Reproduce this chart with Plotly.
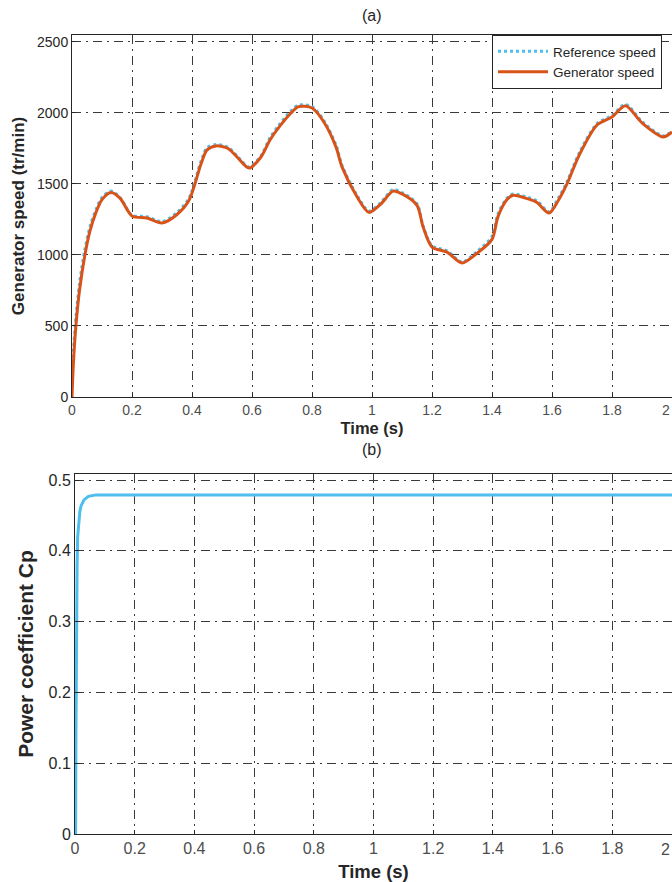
import plotly.graph_objects as go

# ---- data (a) ----
t_speed = [0, 0.005, 0.013, 0.025, 0.043, 0.06, 0.08, 0.1, 0.13, 0.16, 0.2, 0.25, 0.3, 0.35,
           0.39, 0.43, 0.45, 0.48, 0.52, 0.55, 0.59, 0.63, 0.66, 0.69, 0.73, 0.755, 0.8, 0.84,
           0.88, 0.9, 0.95, 0.99, 1.03, 1.07, 1.1, 1.15, 1.17, 1.2, 1.25, 1.3, 1.35, 1.4, 1.42,
           1.45, 1.47, 1.52, 1.55, 1.59, 1.62, 1.65, 1.69, 1.75, 1.8, 1.845, 1.9, 1.97, 2.0]
gen_speed = [0, 250, 500, 750, 1000, 1170, 1300, 1390, 1440, 1400, 1275, 1260, 1225, 1285,
             1385, 1640, 1740, 1768, 1750, 1690, 1612, 1690, 1810, 1900, 2000, 2045, 2035, 1935,
             1760, 1620, 1410, 1300, 1360, 1450, 1430, 1350, 1200, 1056, 1020, 944, 1012, 1110, 1270,
             1390, 1420, 1395, 1370, 1295, 1380, 1500, 1700, 1915, 1972, 2050, 1930, 1831, 1866]
ref_speed = [150, 330, 560, 800, 1040, 1200, 1320, 1405, 1450, 1405, 1280, 1270, 1235, 1300,
             1400, 1660, 1755, 1778, 1758, 1698, 1620, 1700, 1825, 1915, 2015, 2055, 2045, 1945,
             1775, 1630, 1420, 1310, 1370, 1460, 1440, 1360, 1205, 1065, 1030, 950, 1025, 1130, 1290,
             1400, 1430, 1405, 1380, 1305, 1395, 1515, 1715, 1925, 1982, 2060, 1940, 1840, 1870]

# ---- data (b) ----
t_cp = [0, 0.002, 0.003, 0.005, 0.007, 0.009, 0.012, 0.016, 0.02, 0.03, 0.045, 0.07, 0.1, 2.0]
cp = [0, 0.0, 0.13, 0.30, 0.38, 0.42, 0.44, 0.455, 0.463, 0.472, 0.477, 0.479, 0.479, 0.479]

x_ticks = [0, 0.2, 0.4, 0.6, 0.8, 1, 1.2, 1.4, 1.6, 1.8, 2]
x_ticklabels = ["0", "0.2", "0.4", "0.6", "0.8", "1", "1.2", "1.4", "1.6", "1.8", "2"]
y1_ticks = [0, 500, 1000, 1500, 2000, 2500]
y2_ticks = [0, 0.1, 0.2, 0.3, 0.4, 0.5]
y2_ticklabels = ["0", "0.1", "0.2", "0.3", "0.4", "0.5"]

FONT = '"Liberation Sans", Arial, sans-serif'
GRID = "#3a3a3a"
DASH = "9px,5px,2px,5px"

fig = go.Figure()
fig.add_trace(go.Scatter(x=t_speed, y=ref_speed, mode="lines", name="Reference speed",
                         line=dict(color="#4DBEEE", width=3, dash="dot", shape="spline", smoothing=0.8),
                         xaxis="x", yaxis="y"))
fig.add_trace(go.Scatter(x=t_speed, y=gen_speed, mode="lines", name="Generator speed",
                         line=dict(color="#D95319", width=3, shape="spline", smoothing=0.8),
                         xaxis="x", yaxis="y"))
fig.add_trace(go.Scatter(x=t_cp, y=cp, mode="lines", name="Cp", showlegend=False,
                         line=dict(color="#4DBEEE", width=3), xaxis="x2", yaxis="y2"))

H = 882
mt, mb = 35, 48
ph = H - mt - mb
top_lo = (834 - 397) / ph
bot_hi = (834 - 474) / ph

# the last x label ("2") is drawn separately, right-aligned so it stays inside the window
shown_x_labels = x_ticklabels[:-1] + [""]

common_x = dict(tickmode="array", tickvals=x_ticks, ticktext=shown_x_labels, range=[0, 2],
                showgrid=True, gridcolor=GRID, griddash=DASH, gridwidth=1,
                showline=True, linecolor="#262626", linewidth=1, mirror=True,
                ticks="inside", ticklen=4, tickcolor="#262626", zeroline=False)
common_y = dict(showgrid=True, gridcolor=GRID, griddash=DASH, gridwidth=1,
                showline=True, linecolor="#262626", linewidth=1, mirror=True,
                ticks="inside", ticklen=4, tickcolor="#262626", zeroline=False)

fig.update_layout(
    width=672, height=882,
    margin=dict(l=72, r=0, t=mt, b=mb),
    paper_bgcolor="white", plot_bgcolor="white",
    font=dict(family=FONT, color="#262626", size=12),
    xaxis=dict(**common_x, domain=[0, 1], anchor="y",
               tickfont=dict(size=14, color="#4d4d4d"),
               title=dict(text="<b>Time (s)</b>", font=dict(size=16.5), standoff=5)),
    yaxis=dict(**common_y, domain=[top_lo, 1], anchor="x", range=[0, 2549],
               tickmode="array", tickvals=y1_ticks,
               tickfont=dict(size=14),
               title=dict(text="<b>Generator speed (tr/min)</b>", font=dict(size=17), standoff=8)),
    xaxis2=dict(**common_x, domain=[3 / 600, 1], anchor="y2",
                tickfont=dict(size=16, color="#4d4d4d"),
                title=dict(text="<b>Time (s)</b>", font=dict(size=18.5), standoff=9)),
    yaxis2=dict(**common_y, domain=[0, bot_hi], anchor="x2", range=[0, 0.5085],
                tickmode="array", tickvals=y2_ticks, ticktext=y2_ticklabels,
                tickfont=dict(size=16),
                title=dict(text="<b>Power coefficient Cp</b>", font=dict(size=21), standoff=9)),
    legend=dict(x=0.7, y=1, xanchor="left", yanchor="top", bgcolor="white",
                bordercolor="#262626", borderwidth=1, font=dict(size=13.5, color="#262626"),
                tracegroupgap=0, itemwidth=50, entrywidth=0),
    showlegend=True,
)
fig.layout.annotations = [
    dict(text="(a)", x=(372 - 72) / 600, xref="paper", y=1 + (35 - 16) / ph, yref="paper",
         showarrow=False, font=dict(size=16, color="#262626"), yanchor="middle"),
    dict(text="(b)", x=(372 - 72) / 600, xref="paper", y=(834 - 449) / ph, yref="paper",
         showarrow=False, font=dict(size=16, color="#262626"), yanchor="middle"),
    dict(text=x_ticklabels[-1], x=x_ticks[-1], xref="x", y=top_lo, yref="paper",
         yshift=-(410 - 397), showarrow=False, xanchor="right", yanchor="middle",
         font=dict(size=14, color="#4d4d4d")),
    dict(text=x_ticklabels[-1], x=x_ticks[-1], xref="x2", y=0, yref="paper",
         yshift=-(849 - 834), showarrow=False, xanchor="right", yanchor="middle",
         font=dict(size=16, color="#4d4d4d")),
]

fig.write_html("out.html")
